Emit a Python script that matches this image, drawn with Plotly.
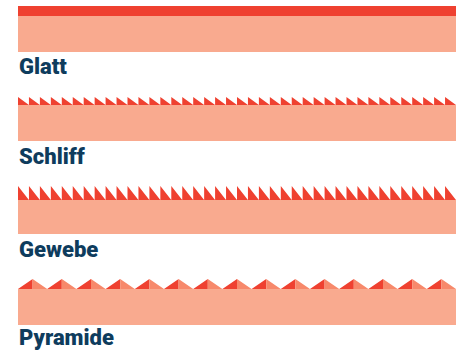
import plotly.graph_objects as go

# ---- data ----
labels = ["Glatt", "Schliff", "Gewebe", "Pyramide"]
profiles = ["flat", "saw", "saw", "pyramid"]
tooth_counts = [1, 40, 40, 15]
profile_depths = [10, 8, 14, 10]

# ---- layout constants (pixel space) ----
W, H = 471, 352
X0, X1 = 18, 456
surface_tops = [16, 105, 200, 289]
body_heights = [36, 36, 34, 36]
label_baselines = [74, 164, 257, 345]

RED = "#EF4130"
SALMON = "#F9AA8F"
LIGHT = "#F7896B"
NAVY = "#0E3C5D"

fig = go.Figure()


def poly(xs, ys, color):
    fig.add_trace(go.Scatter(
        x=xs, y=ys, mode="lines", fill="toself", fillcolor=color,
        line=dict(width=0, color=color), hoverinfo="skip", showlegend=False))


for lab, prof, n, d, top, bh, base in zip(labels, profiles, tooth_counts,
                                          profile_depths, surface_tops,
                                          body_heights, label_baselines):
    # body
    poly([X0, X1, X1, X0, X0], [top, top, top + bh, top + bh, top], SALMON)
    w = (X1 - X0) / n
    if prof == "flat":
        poly([X0, X1, X1, X0, X0], [top - d, top - d, top, top, top - d], RED)
    elif prof == "saw":
        xs, ys = [], []
        for i in range(n):
            a = X0 + i * w
            xs += [a, a, a + w, a, None]
            ys += [top, top - d, top, top, None]
        poly(xs, ys, RED)
    else:
        xl, yl, xr, yr = [], [], [], []
        for i in range(n):
            a = X0 + i * w
            m = a + w / 2
            xl += [a, m, m, a, None]
            yl += [top, top - d, top, top, None]
            xr += [m, a + w, m, m, None]
            yr += [top - d, top, top, top - d, None]
        poly(xl, yl, RED)
        poly(xr, yr, LIGHT)
    fig.add_annotation(x=X0 - 1, y=base + 7, text=lab,
                       xanchor="left", yanchor="bottom", showarrow=False,
                       xref="x", yref="y",
                       font=dict(family="Roboto, Liberation Sans Narrow, Arial",
                                 size=22, color=NAVY, weight=900))

fig.update_layout(
    width=W, height=H, margin=dict(l=0, r=0, t=0, b=0),
    paper_bgcolor="white", plot_bgcolor="white",
    xaxis=dict(range=[0, W], visible=False, fixedrange=True),
    yaxis=dict(range=[H, 0], visible=False, fixedrange=True),
)
fig.write_html("out.html", config={"displayModeBar": False},
               post_script="document.body.style.margin='0';document.body.style.overflow='hidden';")
